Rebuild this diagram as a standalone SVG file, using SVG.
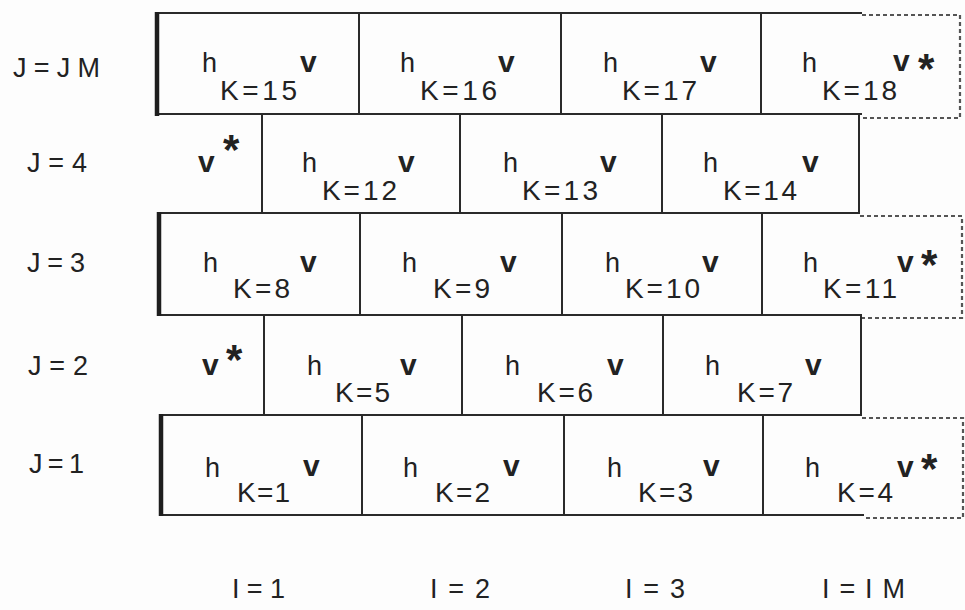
<svg xmlns="http://www.w3.org/2000/svg" width="965" height="610" viewBox="0 0 965 610">
<style>
  .bg { fill: #fdfdfd; }
  .cell { fill: none; stroke: #2a2a2a; stroke-width: 2; }
  .thick { stroke: #1e1e1e; stroke-width: 4.5; fill: none; }
  .dot { stroke: #555; stroke-width: 2.2; stroke-dasharray: 4 3; fill: none; }
  .h { font-family: "Liberation Sans", Arial, sans-serif; font-size: 27px; fill: #222; }
  .k { font-family: "Liberation Sans", Arial, sans-serif; font-size: 28px; fill: #222; }
  .v { font-family: "Liberation Sans", Arial, sans-serif; font-size: 30px; font-weight: bold; fill: #222; }
  .s { font-family: "Liberation Sans", Arial, sans-serif; font-size: 42px; font-weight: bold; fill: #222; }
  .lab { font-family: "Liberation Sans", Arial, sans-serif; font-size: 27px; fill: #222; }
</style>
<rect class="bg" x="0" y="0" width="965" height="610"/>

<g id="grid">
  <line class="cell" x1="157" y1="13" x2="862" y2="13" stroke-width="3"/>
  <line class="cell" x1="157" y1="114" x2="862" y2="114"/>
  <line class="cell" x1="157" y1="213" x2="860" y2="213"/>
  <line class="cell" x1="159" y1="315" x2="862" y2="315"/>
  <line class="cell" x1="161" y1="415" x2="862" y2="415"/>
  <line class="cell" x1="161" y1="515" x2="864" y2="515" stroke-width="3"/>
  <line class="thick" x1="157" y1="12" x2="157" y2="116"/>
  <line class="thick" x1="159" y1="212" x2="159" y2="316"/>
  <line class="thick" x1="161" y1="414" x2="161" y2="516"/>
  <line class="cell" x1="359" y1="13" x2="359" y2="114"/>
  <line class="cell" x1="561" y1="13" x2="561" y2="114"/>
  <line class="cell" x1="761" y1="13" x2="761" y2="114"/>
  <line class="cell" x1="262" y1="114" x2="262" y2="213"/>
  <line class="cell" x1="460" y1="114" x2="460" y2="213"/>
  <line class="cell" x1="662" y1="114" x2="662" y2="213"/>
  <line class="cell" x1="859" y1="114" x2="859" y2="213"/>
  <line class="cell" x1="360" y1="213" x2="360" y2="315"/>
  <line class="cell" x1="562" y1="213" x2="562" y2="315"/>
  <line class="cell" x1="762" y1="213" x2="762" y2="315"/>
  <line class="cell" x1="264" y1="315" x2="264" y2="415"/>
  <line class="cell" x1="462" y1="315" x2="462" y2="415"/>
  <line class="cell" x1="663" y1="315" x2="663" y2="415"/>
  <line class="cell" x1="861" y1="315" x2="861" y2="415"/>
  <line class="cell" x1="362" y1="415" x2="362" y2="515"/>
  <line class="cell" x1="564" y1="415" x2="564" y2="515"/>
  <line class="cell" x1="763" y1="415" x2="763" y2="515"/>
  <path class="dot" d="M862 15 H960 V118 H862"/>
  <path class="dot" d="M860 216 H962 V318 H862"/>
  <path class="dot" d="M862 418 H963 V518 H864"/>
</g>

<g id="labels-j">
  <text class="lab" x="13" y="77" textLength="87" lengthAdjust="spacing">J=JM</text>
  <text class="lab" x="27" y="172" textLength="60" lengthAdjust="spacing">J=4</text>
  <text class="lab" x="27" y="272" textLength="58" lengthAdjust="spacing">J=3</text>
  <text class="lab" x="28" y="375" textLength="60" lengthAdjust="spacing">J=2</text>
  <text class="lab" x="29" y="473" textLength="55" lengthAdjust="spacing">J=1</text>
</g>

<g id="labels-i">
  <text class="lab" x="232" y="598" textLength="53" lengthAdjust="spacing">I=1</text>
  <text class="lab" x="430" y="598" textLength="60" lengthAdjust="spacing">I=2</text>
  <text class="lab" x="625" y="598" textLength="60" lengthAdjust="spacing">I=3</text>
  <text class="lab" x="822" y="598" textLength="83" lengthAdjust="spacing">I=IM</text>
</g>

<g id="k15"><text class="h" x="202" y="72">h</text><text class="k" x="220" y="100" textLength="77" lengthAdjust="spacing">K=15</text><text class="v" x="300" y="72">v</text></g>
<g id="k16"><text class="h" x="400" y="72">h</text><text class="k" x="420" y="100" textLength="77" lengthAdjust="spacing">K=16</text><text class="v" x="498" y="72">v</text></g>
<g id="k17"><text class="h" x="603" y="72">h</text><text class="k" x="622" y="100" textLength="75" lengthAdjust="spacing">K=17</text><text class="v" x="700" y="72">v</text></g>
<g id="k18"><text class="h" x="802" y="72">h</text><text class="k" x="822" y="100" textLength="75" lengthAdjust="spacing">K=18</text><text class="v" x="893" y="71">v</text><text class="s" x="918" y="83">*</text></g>

<g id="ghost4"><text class="v" x="198" y="172">v</text><text class="s" x="223" y="164">*</text></g>
<g id="k12"><text class="h" x="302" y="172">h</text><text class="k" x="322" y="200" textLength="75" lengthAdjust="spacing">K=12</text><text class="v" x="398" y="172">v</text></g>
<g id="k13"><text class="h" x="503" y="172">h</text><text class="k" x="522" y="200" textLength="76" lengthAdjust="spacing">K=13</text><text class="v" x="600" y="172">v</text></g>
<g id="k14"><text class="h" x="703" y="172">h</text><text class="k" x="723" y="200" textLength="74" lengthAdjust="spacing">K=14</text><text class="v" x="802" y="172">v</text></g>

<g id="k8"><text class="h" x="203" y="272">h</text><text class="k" x="233" y="298" textLength="57" lengthAdjust="spacing">K=8</text><text class="v" x="300" y="272">v</text></g>
<g id="k9"><text class="h" x="402" y="272">h</text><text class="k" x="433" y="298" textLength="57" lengthAdjust="spacing">K=9</text><text class="v" x="500" y="272">v</text></g>
<g id="k10"><text class="h" x="605" y="272">h</text><text class="k" x="625" y="298" textLength="75" lengthAdjust="spacing">K=10</text><text class="v" x="702" y="272">v</text></g>
<g id="k11"><text class="h" x="803" y="272">h</text><text class="k" x="823" y="298" textLength="74" lengthAdjust="spacing">K=11</text><text class="v" x="897" y="272">v</text><text class="s" x="921" y="279">*</text></g>

<g id="ghost2"><text class="v" x="202" y="375">v</text><text class="s" x="226" y="374">*</text></g>
<g id="k5"><text class="h" x="307" y="375">h</text><text class="k" x="335" y="402" textLength="55" lengthAdjust="spacing">K=5</text><text class="v" x="400" y="375">v</text></g>
<g id="k6"><text class="h" x="505" y="375">h</text><text class="k" x="537" y="402" textLength="56" lengthAdjust="spacing">K=6</text><text class="v" x="607" y="375">v</text></g>
<g id="k7"><text class="h" x="705" y="375">h</text><text class="k" x="737" y="402" textLength="56" lengthAdjust="spacing">K=7</text><text class="v" x="805" y="375">v</text></g>

<g id="k1"><text class="h" x="205" y="477">h</text><text class="k" x="237" y="502" textLength="53" lengthAdjust="spacing">K=1</text><text class="v" x="303" y="476">v</text></g>
<g id="k2"><text class="h" x="403" y="477">h</text><text class="k" x="435" y="502" textLength="55" lengthAdjust="spacing">K=2</text><text class="v" x="503" y="476">v</text></g>
<g id="k3"><text class="h" x="607" y="477">h</text><text class="k" x="638" y="502" textLength="55" lengthAdjust="spacing">K=3</text><text class="v" x="703" y="476">v</text></g>
<g id="k4"><text class="h" x="805" y="477">h</text><text class="k" x="837" y="502" textLength="56" lengthAdjust="spacing">K=4</text><text class="v" x="897" y="477">v</text><text class="s" x="921" y="483">*</text></g>
</svg>
